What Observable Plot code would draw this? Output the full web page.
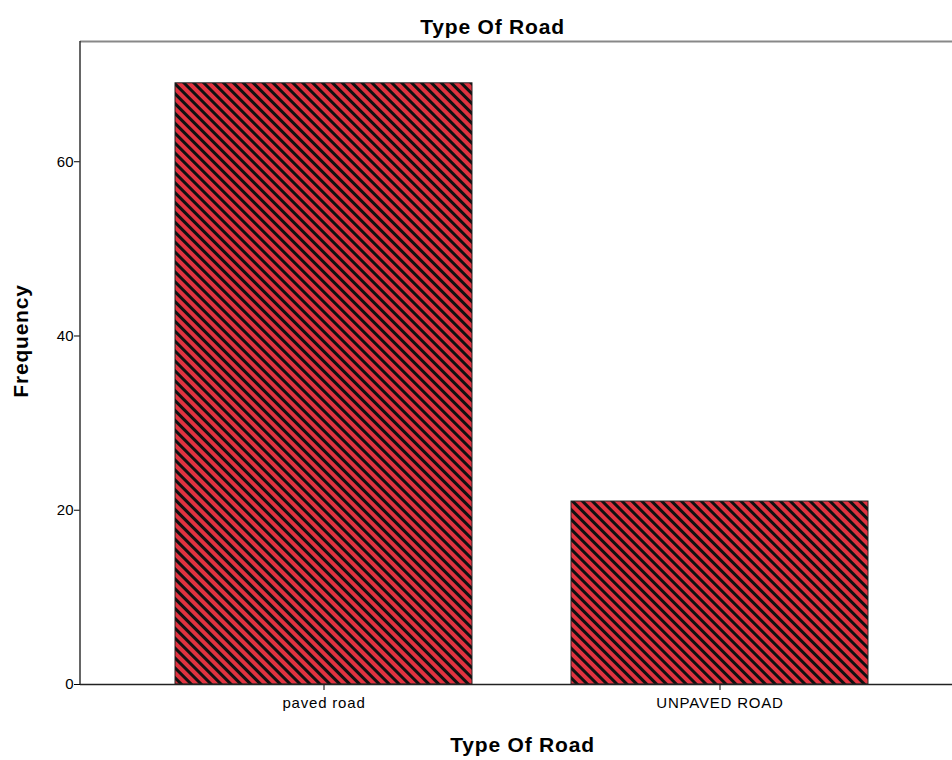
<!DOCTYPE html>
<html>
<head>
<meta charset="utf-8">
<script src="https://cdn.jsdelivr.net/npm/d3@7"></script>
<script src="https://cdn.jsdelivr.net/npm/@observablehq/plot@0.6"></script>
<style>
  html, body { margin: 0; padding: 0; background: #fff; }
  #chart svg { display: block; }
</style>
</head>
<body>
<div id="chart"></div>
<script>
const categories = ["paved road", "UNPAVED ROAD"];
const frequencies = [69, 21];
const yTicks = [0, 20, 40, 60];
const chartTitle = "Type Of Road";
const xLabel = "Type Of Road";
const yLabel = "Frequency";

const data = categories.map((c, i) => ({category: c, frequency: frequencies[i]}));
const yMax = 73.8;

const plot = Plot.plot({
  width: 952,
  height: 760,
  marginTop: 41,
  marginBottom: 76,
  marginLeft: 80,
  marginRight: 0,
  style: {fontFamily: "'Liberation Sans', Arial, sans-serif", fontSize: "15px", color: "#000", background: "#fff"},
  x: {domain: categories, range: [80, 963], paddingInner: 0.249, paddingOuter: 0.237, label: null},
  y: {domain: [0, yMax], label: null},
  marks: [
    Plot.barY(data, {x: "category", y: "frequency", fill: "url(#hatch)", stroke: "#222", strokeWidth: 1}),
    Plot.axisY({ticks: yTicks, tickSize: 6, tickPadding: 1, fontSize: 15, label: null}),
    Plot.axisX({tickSize: 6, tickPadding: 7, fontSize: 15, label: null}),
    Plot.ruleY([0], {stroke: "#222", strokeWidth: 1.5}),
    Plot.ruleY([yMax], {stroke: "#888", strokeWidth: 2}),
    Plot.text([chartTitle], {frameAnchor: "top", lineAnchor: "middle", dy: -14, dx: -24, fontSize: 21, fontWeight: "bold", fill: "#000"}),
    Plot.text([xLabel], {frameAnchor: "bottom", lineAnchor: "middle", dy: 61, dx: 6, fontSize: 21, fontWeight: "bold", fill: "#000"}),
    Plot.text([yLabel], {frameAnchor: "left", textAnchor: "middle", lineAnchor: "middle", dx: -59, dy: -22, rotate: -90, fontSize: 21, fontWeight: "bold", fill: "#000"})
  ]
});

const svg = d3.select(plot);
const defs = svg.insert("defs", ":first-child");
const pat = defs.append("pattern")
  .attr("id", "hatch")
  .attr("patternUnits", "userSpaceOnUse")
  .attr("width", 7)
  .attr("height", 7)
  .attr("patternTransform", "rotate(-45)");
pat.append("rect").attr("width", 7).attr("height", 7).attr("fill", "#e03340");
pat.append("rect").attr("x", 0).attr("y", 0).attr("width", 3).attr("height", 7).attr("fill", "#111");

// letter spacing to match the wider reference text
svg.selectAll("text").filter(function() { return this.textContent === chartTitle || this.textContent === yLabel; })
  .style("letter-spacing", "0.8px");
svg.selectAll("[aria-label='x-axis tick label'] text")
  .style("letter-spacing", "0.8px");

// left frame line
svg.append("line")
  .attr("x1", 80).attr("x2", 80)
  .attr("y1", 41).attr("y2", 684)
  .attr("stroke", "#333").attr("stroke-width", 1.5);

document.getElementById("chart").appendChild(plot);
</script>
</body>
</html>
